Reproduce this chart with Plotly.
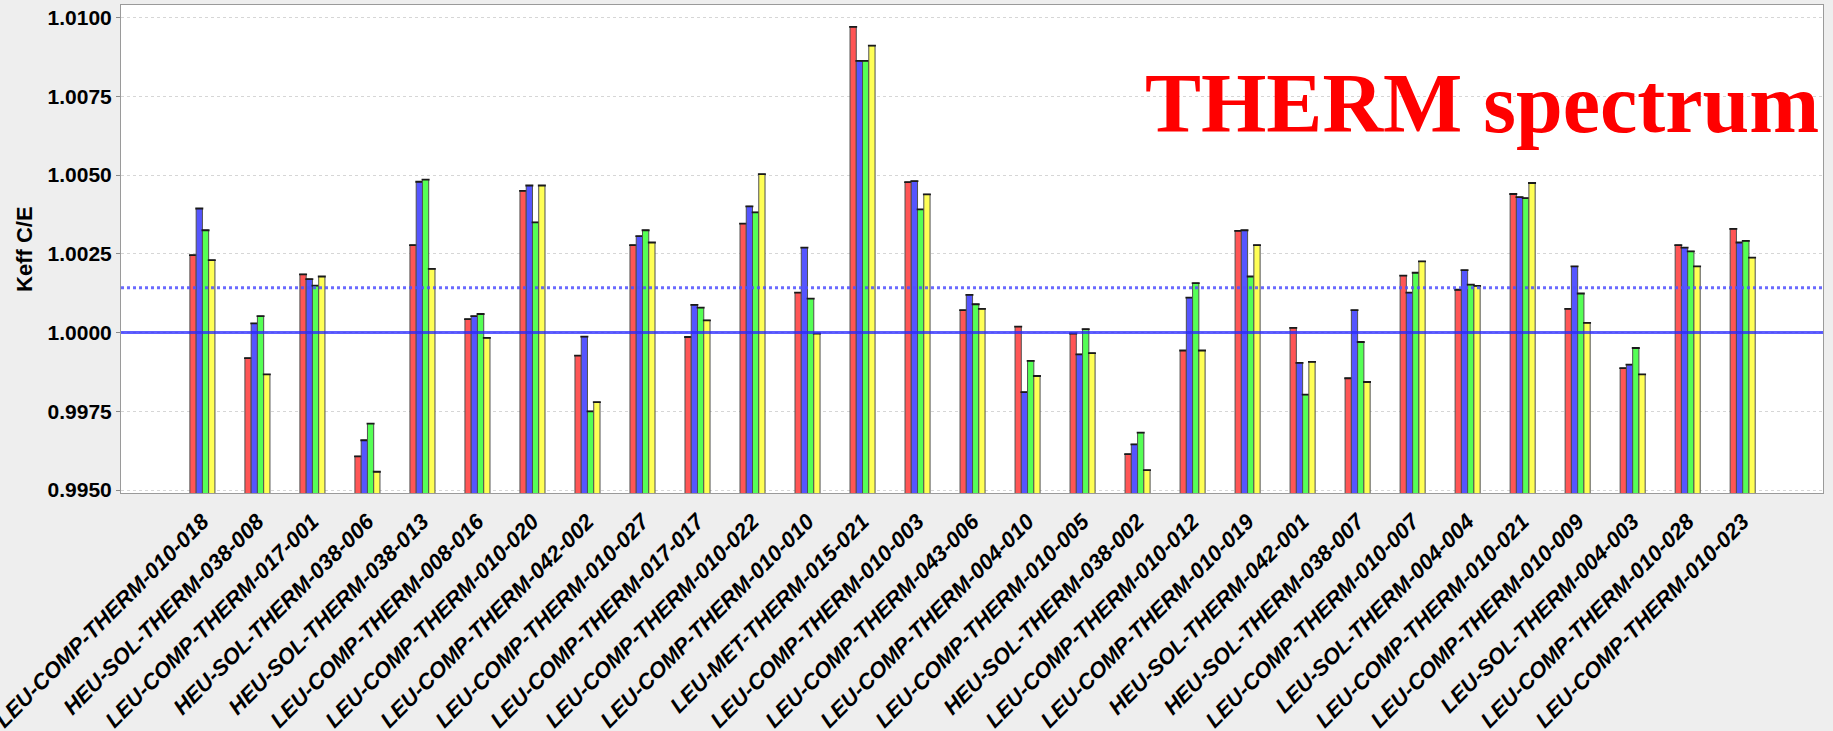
import plotly.graph_objects as go

categories = [
    "LEU-COMP-THERM-010-018", "HEU-SOL-THERM-038-008", "LEU-COMP-THERM-017-001",
    "HEU-SOL-THERM-038-006", "HEU-SOL-THERM-038-013", "LEU-COMP-THERM-008-016",
    "LEU-COMP-THERM-010-020", "LEU-COMP-THERM-042-002", "LEU-COMP-THERM-010-027",
    "LEU-COMP-THERM-017-017", "LEU-COMP-THERM-010-022", "LEU-COMP-THERM-010-010",
    "LEU-MET-THERM-015-021", "LEU-COMP-THERM-010-003", "LEU-COMP-THERM-043-006",
    "LEU-COMP-THERM-004-010", "LEU-COMP-THERM-010-005", "HEU-SOL-THERM-038-002",
    "LEU-COMP-THERM-010-012", "LEU-COMP-THERM-010-019", "HEU-SOL-THERM-042-001",
    "HEU-SOL-THERM-038-007", "LEU-COMP-THERM-010-007", "LEU-SOL-THERM-004-004",
    "LEU-COMP-THERM-010-021", "LEU-COMP-THERM-010-009", "LEU-SOL-THERM-004-003",
    "LEU-COMP-THERM-010-028", "LEU-COMP-THERM-010-023",
]

red_vals = [1.00246, 0.99919, 1.00185, 0.99607, 1.00278, 1.00043, 1.00450, 0.99927,
            1.00278, 0.99986, 1.00346, 1.00127, 1.00971, 1.00478, 1.00071, 1.00019,
            0.99997, 0.99614, 0.99943, 1.00323, 1.00015, 0.99855, 1.00181, 1.00136,
            1.00440, 1.00075, 0.99887, 1.00278, 1.00329]
blue_vals = [1.00394, 1.00029, 1.00170, 0.99658, 1.00479, 1.00052, 1.00467, 0.99987,
             1.00306, 1.00088, 1.00401, 1.00270, 1.00863, 1.00481, 1.00120, 0.99811,
             0.99931, 0.99645, 1.00111, 1.00325, 0.99904, 1.00071, 1.00127, 1.00198,
             1.00430, 1.00210, 0.99898, 1.00270, 1.00286]
green_vals = [1.00325, 1.00052, 1.00149, 0.99711, 1.00486, 1.00059, 1.00350, 0.99750,
              1.00325, 1.00079, 1.00382, 1.00108, 1.00863, 1.00391, 1.00090, 0.99910,
              1.00011, 0.99682, 1.00157, 1.00178, 0.99803, 0.99970, 1.00190, 1.00152,
              1.00427, 1.00124, 0.99951, 1.00258, 1.00291]
yellow_vals = [1.00230, 0.99867, 1.00178, 0.99558, 1.00202, 0.99983, 1.00467, 0.99779,
               1.00286, 1.00039, 1.00503, 0.99997, 1.00911, 1.00439, 1.00075, 0.99862,
               0.99935, 0.99563, 0.99943, 1.00278, 0.99907, 0.99843, 1.00226, 1.00148,
               1.00475, 1.00031, 0.99867, 1.00210, 1.00238]

series = [
    ("red", red_vals, "rgb(255,85,85)"),
    ("blue", blue_vals, "rgb(85,85,255)"),
    ("green", green_vals, "rgb(85,255,85)"),
    ("yellow", yellow_vals, "rgb(255,255,85)"),
]

ref_line = 1.0000
mean_line = 1.00142
y_min, y_max = 0.994905, 1.010403

fig = go.Figure()
for name, vals, col in series:
    fig.add_trace(go.Bar(
        x=categories, y=vals, name=name, base=0,
        marker=dict(color=col, line=dict(color="#505050", width=1)),
        error_y=dict(type="constant", value=0, width=4, thickness=1.8, color="#1a1a1a"),
        showlegend=False,
    ))

fig.add_shape(type="line", xref="paper", yref="y", x0=0, x1=1, y0=ref_line, y1=ref_line,
              line=dict(color="rgba(40,40,255,0.75)", width=3))
fig.add_shape(type="line", xref="paper", yref="y", x0=0, x1=1, y0=mean_line, y1=mean_line,
              line=dict(color="rgba(80,80,255,0.85)", width=3, dash="dot"))

fig.add_annotation(text="<b>THERM spectrum</b>", xref="paper", yref="paper",
                   x=0.999, y=0.798, xanchor="right", yanchor="middle", showarrow=False,
                   font=dict(family="Liberation Serif", size=84, color="#ff0000"))
fig.add_annotation(text="<b>Keff C/E</b>", xref="paper", yref="paper",
                   x=-0.057, y=0.5, xanchor="center", yanchor="middle", showarrow=False,
                   textangle=-90,
                   font=dict(family="Liberation Sans", size=22, color="black"))

fig.update_layout(
    width=1833, height=731,
    margin=dict(l=121, r=10, t=5, b=238),
    paper_bgcolor="#eeeeee", plot_bgcolor="white",
    barmode="group", bargap=0.545, bargroupgap=0,
    xaxis=dict(
        type="category", range=[-1.48, 29.46], automargin=False,
        tickangle=-45, ticks="", showgrid=False, zeroline=False,
        showline=True, mirror=True, linecolor="#9a9a9a", linewidth=1,
        ticklabelstandoff=6,
        tickfont=dict(family="Liberation Sans", size=22, color="black",
                      weight="bold", style="italic"),
    ),
    yaxis=dict(
        range=[y_min, y_max], tick0=0.995, dtick=0.0025, tickformat=".4f",
        automargin=False,
        ticks="outside", ticklen=4, tickcolor="#888888",
        showgrid=True, gridcolor="#d6d6d6", gridwidth=1, griddash="3px,3px",
        zeroline=False, showline=True, mirror=True, linecolor="#9a9a9a", linewidth=1,
        tickfont=dict(family="Liberation Sans", size=21, color="black", weight="bold"),
    ),
)

fig.write_html("out.html")
